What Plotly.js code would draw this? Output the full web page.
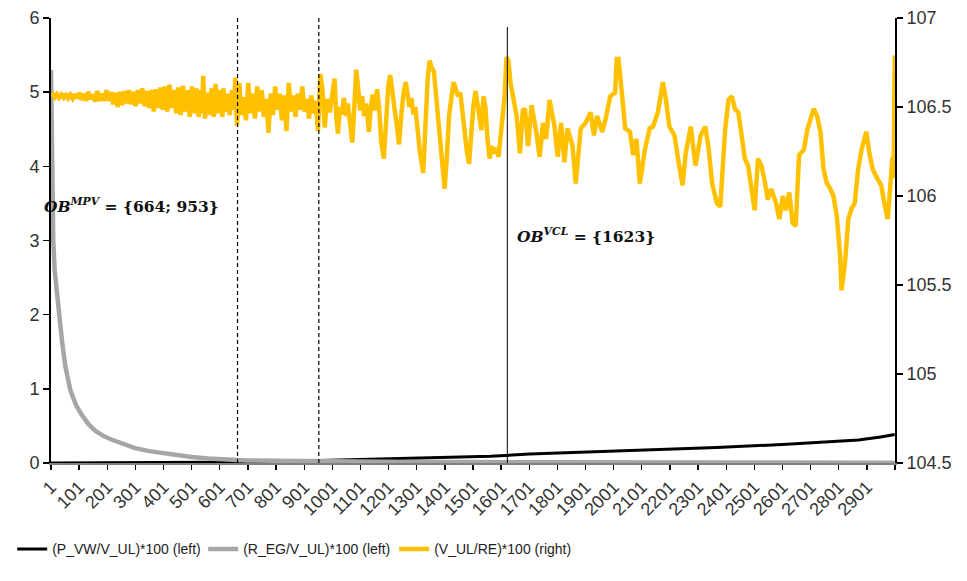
<!DOCTYPE html>
<html>
<head>
<meta charset="utf-8">
<script src="https://cdn.plot.ly/plotly-3.0.1.min.js"></script>
<style>html,body{margin:0;padding:0;background:#fff;}#chart{width:967px;height:581px;}</style>
</head>
<body>
<div id="chart"></div>
<script>
// ---- data ----
const seriesNames = ['(P_VW/V_UL)*100 (left)', '(R_EG/V_UL)*100 (left)', '(V_UL/RE)*100 (right)'];

const blackX = [1, 281, 571, 921, 1271, 1562, 1702, 2017, 2367, 2601, 2871, 2950, 3000];
const blackY = [0, 0, 0.01, 0.03, 0.063, 0.09, 0.12, 0.16, 0.21, 0.25, 0.31, 0.35, 0.385];

const grayX = [1, 3, 6, 9, 14, 20, 29, 40, 52, 70, 90, 110, 135, 160, 190, 220, 260, 300, 350, 400, 450, 500, 560, 620, 700, 800, 900, 1100, 1300, 1500, 1700, 2000, 2500, 3000];
const grayY = [5.3, 4.5, 3.8, 3.0, 2.6, 2.3, 2.05, 1.65, 1.3, 0.98, 0.78, 0.65, 0.52, 0.43, 0.36, 0.31, 0.25, 0.2, 0.16, 0.13, 0.1, 0.08, 0.06, 0.045, 0.035, 0.03, 0.025, 0.02, 0.015, 0.012, 0.01, 0.008, 0.006, 0.005];

const goldX = [1, 8, 15, 22, 30, 38, 46, 54, 62, 70, 78, 86, 94, 102, 110, 118, 126, 134, 142, 150, 158, 166, 174, 182, 190, 198, 206, 214, 222, 230, 238, 246, 254, 262, 270, 278, 286, 294, 302, 310, 318, 326, 334, 342, 350, 358, 366, 374, 382, 390, 398, 406, 414, 422, 430, 438, 446, 454, 462, 470, 478, 486, 494, 502, 510, 518, 526, 534, 538, 542, 548, 556, 564, 572, 580, 586, 594, 602, 610, 614, 620, 628, 636, 644, 652, 656, 662, 670, 678, 686, 694, 702, 710, 718, 726, 734, 742, 750, 758, 766, 774, 782, 790, 798, 806, 814, 822, 830, 838, 846, 854, 862, 870, 878, 886, 894, 902, 910, 918, 926, 934, 942, 950, 958, 966, 974, 982,
  992, 1000, 1009, 1015, 1021, 1028, 1035, 1042, 1049, 1056, 1063, 1072, 1079, 1086, 1093, 1100, 1107, 1114, 1121, 1131, 1138, 1145, 1152, 1160, 1167, 1175, 1184, 1192, 1200, 1207, 1214, 1222, 1230, 1238, 1246, 1254, 1262, 1268, 1275, 1282, 1289, 1296, 1304, 1312, 1324, 1332, 1340, 1347, 1354, 1362, 1370, 1378, 1386, 1393, 1400, 1408, 1416, 1424, 1432, 1440, 1448, 1456, 1464, 1472, 1480, 1487, 1494, 1502, 1510, 1517, 1524, 1531, 1538, 1545, 1552, 1560, 1568, 1576, 1584, 1592, 1600, 1607, 1613, 1620, 1627,
  1634, 1645, 1656, 1668, 1678, 1686, 1697, 1709, 1720, 1726, 1738, 1750, 1761, 1773, 1791, 1802, 1814, 1826, 1837, 1855, 1866, 1884, 1901, 1919, 1931, 1942, 1960, 1972, 1989, 2006, 2012, 2018, 2030, 2042, 2059, 2071, 2082, 2094, 2112, 2129, 2141, 2158, 2176, 2187, 2199, 2217, 2234, 2246, 2257, 2275, 2292, 2310, 2327, 2339, 2351, 2368, 2380,
  2386, 2397, 2409, 2421, 2432, 2444, 2456, 2467, 2479, 2491, 2502, 2514, 2526, 2537, 2549, 2561, 2578, 2590, 2602, 2613, 2625, 2637, 2648, 2660, 2677, 2689, 2701, 2712, 2724, 2736, 2747, 2759, 2771, 2782, 2794, 2806, 2811, 2823, 2835, 2847, 2858, 2870, 2882, 2893, 2899, 2911, 2922, 2934, 2952, 2963, 2975, 2987, 2992, 2996, 3000];
const goldY = [106.56, 106.57, 106.555, 106.572, 106.552, 106.57, 106.553, 106.575, 106.55, 106.568, 106.548, 106.572, 106.55, 106.58, 106.54, 106.575, 106.535, 106.585, 106.545, 106.57, 106.53, 106.59, 106.535, 106.575, 106.535, 106.595, 106.535, 106.585, 106.515, 106.58, 106.50, 106.585, 106.51, 106.59, 106.52, 106.595, 106.515, 106.585, 106.505, 106.595, 106.52, 106.605, 106.505, 106.59, 106.495, 106.595, 106.475, 106.60, 106.495, 106.61, 106.485, 106.615, 106.475, 106.625, 106.495, 106.595, 106.465, 106.61, 106.455, 106.62, 106.475, 106.595, 106.445, 106.615, 106.465, 106.605, 106.445, 106.595, 106.465, 106.675, 106.435, 106.58, 106.455, 106.605, 106.445, 106.63, 106.465, 106.595, 106.445, 106.605, 106.475, 106.575, 106.455, 106.595, 106.485, 106.665, 106.395, 106.635, 106.455, 106.555, 106.425, 106.635, 106.465, 106.575, 106.435, 106.615, 106.475, 106.595, 106.445, 106.545, 106.355, 106.575, 106.455, 106.615, 106.485, 106.575, 106.425, 106.565, 106.365, 106.635, 106.475, 106.565, 106.445, 106.575, 106.485, 106.615, 106.475, 106.545, 106.435, 106.565, 106.465, 106.535, 106.365, 106.685, 106.595, 106.385, 106.545,
  106.47, 106.56, 106.66, 106.45, 106.35, 106.50, 106.46, 106.55, 106.45, 106.52, 106.42, 106.30, 106.50, 106.71, 106.60, 106.48, 106.56, 106.45, 106.52, 106.36, 106.50, 106.57, 106.48, 106.60, 106.50, 106.30, 106.21, 106.45, 106.62, 106.68, 106.57, 106.49, 106.40, 106.29, 106.45, 106.58, 106.64, 106.56, 106.50, 106.55, 106.46, 106.50, 106.36, 106.25, 106.13, 106.40, 106.66, 106.76, 106.72, 106.70, 106.55, 106.45, 106.30, 106.15, 106.04, 106.22, 106.45, 106.55, 106.64, 106.60, 106.56, 106.58, 106.46, 106.32, 106.24, 106.18, 106.35, 106.50, 106.59, 106.50, 106.42, 106.37, 106.56, 106.50, 106.33, 106.21, 106.28, 106.24, 106.27, 106.22, 106.35, 106.45, 106.55, 106.78, 106.76,
  106.64, 106.54, 106.45, 106.24, 106.48, 106.49, 106.28, 106.51, 106.43, 106.36, 106.22, 106.41, 106.32, 106.54, 106.39, 106.22, 106.41, 106.19, 106.38, 106.28, 106.07, 106.38, 106.41, 106.47, 106.34, 106.45, 106.36, 106.43, 106.56, 106.58, 106.77, 106.77, 106.58, 106.38, 106.36, 106.23, 106.32, 106.07, 106.26, 106.38, 106.39, 106.47, 106.64, 106.54, 106.39, 106.34, 106.17, 106.06, 106.24, 106.39, 106.17, 106.34, 106.39, 106.26, 106.07, 105.96, 105.94,
  106.09, 106.37, 106.54, 106.56, 106.49, 106.47, 106.34, 106.21, 106.17, 106.04, 105.92, 106.21, 106.17, 106.09, 105.98, 106.04, 105.96, 105.87, 106.00, 105.92, 106.02, 105.85, 105.83, 106.23, 106.26, 106.37, 106.43, 106.49, 106.45, 106.36, 106.15, 106.07, 106.04, 106.00, 105.89, 105.66, 105.47, 105.62, 105.87, 105.93, 105.96, 106.15, 106.26, 106.34, 106.36, 106.23, 106.15, 106.11, 106.06, 105.96, 105.87, 106.11, 106.22, 106.10, 106.79];

const tickVals = [1, 101, 201, 301, 401, 501, 601, 701, 801, 901, 1001, 1101, 1201, 1301, 1401, 1501, 1601, 1701, 1801, 1901, 2001, 2101, 2201, 2301, 2401, 2501, 2601, 2701, 2801, 2901, 3001];
const tickLabels = ['1', '101', '201', '301', '401', '501', '601', '701', '801', '901', '1001', '1101', '1201', '1301', '1401', '1501', '1601', '1701', '1801', '1901', '2001', '2101', '2201', '2301', '2401', '2501', '2601', '2701', '2801', '2901', ''];

const mpvBreaks = [664, 953];
const vclBreaks = [1623];

// ---- chart ----
const traces = [
  {x: blackX, y: blackY, name: seriesNames[0], type: 'scatter', mode: 'lines', line: {color: '#000000', width: 3}, yaxis: 'y'},
  {x: grayX, y: grayY, name: seriesNames[1], type: 'scatter', mode: 'lines', line: {color: '#a6a6a6', width: 4.5}, yaxis: 'y'},
  {x: goldX, y: goldY, name: seriesNames[2], type: 'scatter', mode: 'lines', line: {color: '#ffc000', width: 4.5}, yaxis: 'y2'}
];

const shapes = [];
mpvBreaks.forEach(v => shapes.push({type: 'line', xref: 'x', yref: 'paper', x0: v, x1: v, y0: 0, y1: 1, line: {color: '#000', width: 1.2, dash: '4px,3px'}}));
vclBreaks.forEach(v => shapes.push({type: 'line', xref: 'x', yref: 'paper', x0: v, x1: v, y0: 0, y1: 0.98, line: {color: '#000', width: 1}}));

const annFont = {family: 'DejaVu Serif, Liberation Serif, serif', size: 15.5, color: '#111'};
const annotations = [
  {xref: 'x', yref: 'y', x: 2, xshift: -9, y: 3.47, xanchor: 'left', yanchor: 'middle', showarrow: false, font: annFont,
   text: '<b><i>OB</i></b><sup><b><i>MPV</i></b></sup><b> = {' + mpvBreaks.join('; ') + '}</b>'},
  {xref: 'x', yref: 'y', x: 1652, y: 3.07, xanchor: 'left', yanchor: 'middle', showarrow: false, font: annFont,
   text: '<b><i>OB</i></b><sup><b><i>VCL</i></b></sup><b> = {' + vclBreaks.join('; ') + '}</b>'}
];

const tickFont = {family: 'Liberation Sans, Arial, sans-serif', size: 18, color: '#333'};

const layout = {
  width: 967, height: 581,
  margin: {l: 37, r: 72, t: 18, b: 118},
  paper_bgcolor: '#fff', plot_bgcolor: '#fff',
  showlegend: true,
  legend: {orientation: 'h', x: -0.046, y: -0.158, xanchor: 'left', yanchor: 'top',
           font: {family: 'Liberation Sans, Arial, sans-serif', size: 14, color: '#222'},
           entrywidth: 146, itemwidth: 30, bgcolor: 'rgba(0,0,0,0)'},
  xaxis: {range: [1, 3001], tickmode: 'array', tickvals: tickVals, ticktext: tickLabels, tickangle: -45,
          ticks: 'outside', ticklen: 5, tickcolor: '#000', tickwidth: 1.3, showline: true, linecolor: '#808080', linewidth: 1.5,
          showgrid: false, zeroline: false, tickfont: tickFont, layer: 'below traces'},
  yaxis: {range: [0, 6], dtick: 1, ticks: 'outside', ticklen: 6, tickcolor: '#000', tickwidth: 1.5,
          showline: true, linecolor: '#000', linewidth: 1.8, showgrid: false, zeroline: false, tickfont: tickFont},
  yaxis2: {range: [104.5, 107], dtick: 0.5, overlaying: 'y', side: 'right', ticks: 'outside', ticklen: 6, tickcolor: '#000', tickwidth: 1.5,
           showline: true, linecolor: '#000', linewidth: 1.8, showgrid: false, zeroline: false, tickfont: tickFont},
  shapes: shapes,
  annotations: annotations
};

Plotly.newPlot('chart', traces, layout, {displayModeBar: false, staticPlot: true});
</script>
</body>
</html>
